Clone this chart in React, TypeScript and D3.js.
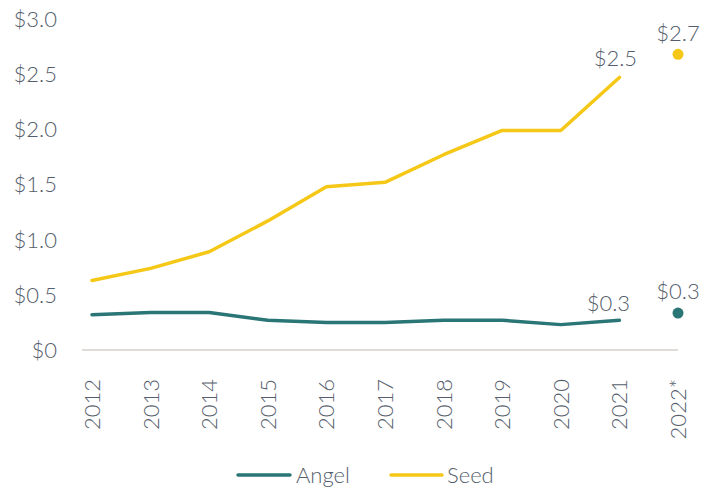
import React from "react";
import * as d3 from "d3";

// categories and values
const years = ["2012", "2013", "2014", "2015", "2016", "2017", "2018", "2019", "2020", "2021", "2022*"];
const lineYears = years.slice(0, 10);
const seedValues = [0.63, 0.74, 0.89, 1.17, 1.48, 1.52, 1.77, 1.99, 1.99, 2.47];
const angelValues = [0.32, 0.34, 0.34, 0.27, 0.25, 0.25, 0.27, 0.27, 0.23, 0.27];
const seedEstimate = 2.68;
const angelEstimate = 0.335;
const yTicks = [0, 0.5, 1, 1.5, 2, 2.5, 3];

const TEAL = "#2a7575";
const YELLOW = "#f5c817";
const TEXT = "#555e6c";
const FONT = "Lato, 'Open Sans', sans-serif";

const fmtTick = (v: number) => (v === 0 ? "$0" : "$" + v.toFixed(1));

export default function App() {
  const width = 701;
  const height = 491;

  const x = d3.scalePoint<string>().domain(years).range([92, 678]);
  const y = d3.scaleLinear().domain([0, 3]).range([350, 19]);

  const line = d3
    .line<number>()
    .x((d, i) => x(lineYears[i]) as number)
    .y((d) => y(d));

  const last = lineYears[lineYears.length - 1];
  const est = years[years.length - 1];

  return (
    <svg
      width={width}
      height={height}
      style={{ position: "absolute", left: 0, top: 0, background: "#fff" }}
      fontFamily={FONT}
    >
      {/* y axis labels */}
      {yTicks.map((t) => (
        <text
          key={t}
          x={57}
          y={y(t)}
          dy="0.36em"
          textAnchor="end"
          fontSize={22}
          fontWeight={300}
          fill={TEXT}
        >
          {fmtTick(t)}
        </text>
      ))}

      {/* baseline */}
      <line x1={82} x2={678} y1={y(0)} y2={y(0)} stroke="#d3cfcb" strokeWidth={1.5} />

      {/* x labels */}
      {years.map((yr) => (
        <text
          key={yr}
          transform={`translate(${(x(yr) as number) + 8},379) rotate(-90)`}
          textAnchor="end"
          fontSize={22}
          fontWeight={300}
          fill={TEXT}
        >
          {yr}
        </text>
      ))}

      {/* lines */}
      <path d={line(seedValues) || ""} fill="none" stroke={YELLOW} strokeWidth={3.5} strokeLinejoin="round" strokeLinecap="round" />
      <path d={line(angelValues) || ""} fill="none" stroke={TEAL} strokeWidth={3.5} strokeLinejoin="round" strokeLinecap="round" />

      {/* 2022 estimates */}
      <circle cx={x(est)} cy={y(seedEstimate)} r={5.5} fill={YELLOW} />
      <circle cx={x(est)} cy={y(angelEstimate)} r={5.5} fill={TEAL} />

      {/* value labels */}
      <text x={(x(last) as number) - 4} y={y(seedValues[9]) - 11} textAnchor="middle" fontSize={22} fontWeight={300} fill={TEXT}>
        {"$" + seedValues[9].toFixed(1)}
      </text>
      <text x={(x(est) as number)} y={y(seedEstimate) - 13} textAnchor="middle" fontSize={22} fontWeight={300} fill={TEXT}>
        {"$" + seedEstimate.toFixed(1)}
      </text>
      <text x={(x(last) as number) - 11} y={y(angelValues[9]) - 9} textAnchor="middle" fontSize={22} fontWeight={300} fill={TEXT}>
        {"$" + angelValues[9].toFixed(1)}
      </text>
      <text x={(x(est) as number)} y={y(angelEstimate) - 14} textAnchor="middle" fontSize={22} fontWeight={300} fill={TEXT}>
        {"$" + angelEstimate.toFixed(1)}
      </text>

      {/* legend */}
      <g>
        <line x1={238} x2={290} y1={475} y2={475} stroke={TEAL} strokeWidth={3.5} strokeLinecap="round" />
        <text x={296} y={475} dy="0.36em" fontSize={22} fontWeight={300} fill={TEXT}>Angel</text>
        <line x1={391} x2={442} y1={475} y2={475} stroke={YELLOW} strokeWidth={3.5} strokeLinecap="round" />
        <text x={447} y={475} dy="0.36em" fontSize={22} fontWeight={300} fill={TEXT}>Seed</text>
      </g>
    </svg>
  );
}
